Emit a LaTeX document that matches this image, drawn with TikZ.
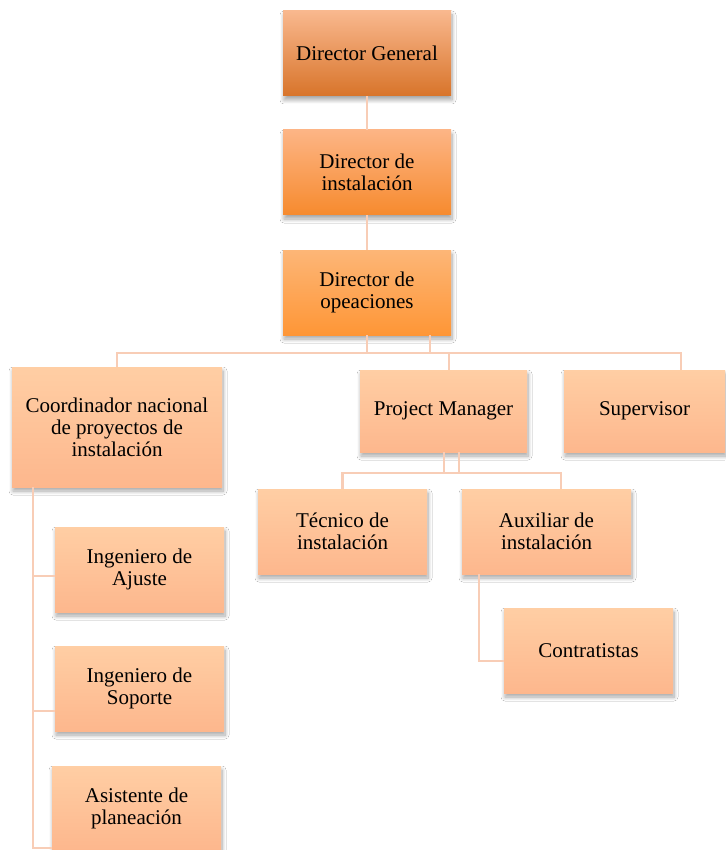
\documentclass[tikz,border=0pt]{standalone}
\usepackage{fontspec}
\setmainfont{Liberation Serif}
\usetikzlibrary{shadows.blur,calc}
\definecolor{lineC}{HTML}{F8CDB6}
\definecolor{dgTop}{HTML}{F9B88E}
\definecolor{dgBot}{HTML}{D8742A}
\definecolor{diTop}{HTML}{FDB585}
\definecolor{diBot}{HTML}{F68A2E}
\definecolor{doTop}{HTML}{FDB677}
\definecolor{doBot}{HTML}{FE9636}
\definecolor{loTop}{HTML}{FFCEA4}
\definecolor{loBot}{HTML}{FDB78D}
\tikzset{
  orgbox/.style={rectangle, inner sep=2pt, align=center, text=black,
    font=\fontsize{21}{22}\selectfont,
    blur shadow={shadow xshift=1pt, shadow yshift=-4pt, shadow blur steps=8, shadow opacity=35, shadow blur radius=4pt}},
  topbox/.style={orgbox, top color=dgTop, bottom color=dgBot},
  midbox/.style={orgbox, top color=diTop, bottom color=diBot},
  opbox/.style={orgbox, top color=doTop, bottom color=doBot},
  lowbox/.style={orgbox, top color=loTop, bottom color=loBot},
  conn/.style={draw=lineC, line width=2.4pt},
}
\begin{document}
\begin{tikzpicture}[x=1pt,y=-1pt]
\useasboundingbox (0,0) rectangle (725,850);
\fill[white] (0,0) rectangle (725,850);
\coordinate (hA) at (0,353);
\coordinate (hB) at (0,473);
\coordinate (cx) at (33,0);
% nodes
\node[topbox, minimum width=168pt, minimum height=85pt] (DG) at (367,53.5) {Director General};
\node[midbox, minimum width=168pt, minimum height=85pt] (DI) at (367,172.5) {Director de\\instalación};
\node[opbox, minimum width=168pt, minimum height=85pt] (DO) at (367,292.5) {Director de\\opeaciones};
\node[lowbox, minimum width=210pt, minimum height=120pt] (CO) at (117,427) {Coordinador nacional\\de proyectos de\\instalación};
\node[lowbox, minimum width=167pt, minimum height=82pt] (PM) at (443.5,411) {Project Manager};
\node[lowbox, minimum width=161pt, minimum height=82pt] (SU) at (644.5,411) {Supervisor};
\node[lowbox, minimum width=169pt, minimum height=85pt] (TE) at (342.5,531.5) {Técnico de\\instalación};
\node[lowbox, minimum width=169pt, minimum height=85pt] (AU) at (546.5,531.5) {Auxiliar de\\instalación};
\node[lowbox, minimum width=169pt, minimum height=85pt] (CT) at (588.5,650.5) {Contratistas};
\node[lowbox, minimum width=169pt, minimum height=85pt] (AJ) at (139.5,569.5) {Ingeniero de\\Ajuste};
\node[lowbox, minimum width=169pt, minimum height=85pt] (SO) at (139.5,688.5) {Ingeniero de\\Soporte};
\node[lowbox, minimum width=169pt, minimum height=84pt] (AS) at (136.5,808) {Asistente de\\planeación};
% connectors
\draw[conn] (DG.south) -- (DI.north);
\draw[conn] (DI.south) -- (DO.north);
\draw[conn] (DO.south) -- (DO.south |- hA);
\draw[conn] ([xshift=63pt]DO.south) -- ([xshift=63pt]DO.south |- hA);
\draw[conn] (CO.north) -- (CO.north |- hA) -- ([xshift=36.5pt]SU.north |- hA) -- ([xshift=36.5pt]SU.north);
\draw[conn] ([xshift=5.5pt]PM.north |- hA) -- ([xshift=5.5pt]PM.north);
\draw[conn] ([xshift=0.5pt]PM.south) -- ([xshift=0.5pt]PM.south |- hB);
\draw[conn] ([xshift=15.5pt]PM.south) -- ([xshift=15.5pt]PM.south |- hB);
\draw[conn] (TE.north) -- (TE.north |- hB) -- ([xshift=14.5pt]AU.north |- hB) -- ([xshift=14.5pt]AU.north);
\draw[conn] ([xshift=-67.5pt]AU.south) |- ([yshift=-10.5pt]CT.west);
\draw[conn] (CO.south -| cx) |- ([yshift=-6.5pt]AJ.west);
\draw[conn] (CO.south -| cx) |- ([yshift=-22.5pt]SO.west);
\draw[conn] (CO.south -| cx) |- ([yshift=-40pt]AS.west);
\end{tikzpicture}
\end{document}
